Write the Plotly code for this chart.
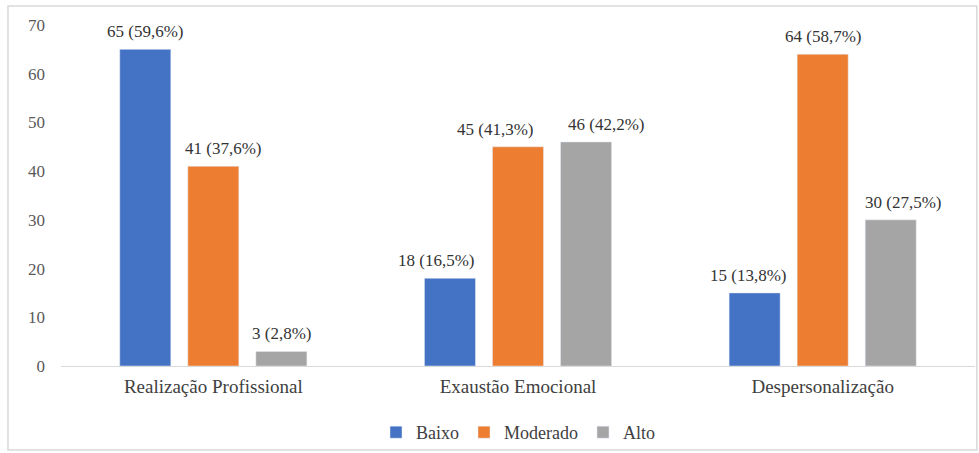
import plotly.graph_objects as go

categories = ["Realização Profissional", "Exaustão Emocional", "Despersonalização"]
series_names = ["Baixo", "Moderado", "Alto"]
baixo = [65, 18, 15]
moderado = [41, 45, 64]
alto = [3, 46, 30]
baixo_pct = ["59,6%", "16,5%", "13,8%"]
moderado_pct = ["37,6%", "41,3%", "58,7%"]
alto_pct = ["2,8%", "42,2%", "27,5%"]
colors = ["#4472C4", "#ED7D31", "#A5A5A5"]
y_ticks = [0, 10, 20, 30, 40, 50, 60, 70]

SERIF = "Liberation Serif, Times New Roman, serif"

series_vals = [baixo, moderado, alto]
series_pcts = [baixo_pct, moderado_pct, alto_pct]

fig = go.Figure()
for name, vals, col in zip(series_names, series_vals, colors):
    fig.add_trace(go.Bar(x=categories, y=vals, name=name, marker_color=col))

# data labels (placed like the original: above each bar, nudged sideways)
slot_px = 68
nudge = {(0, 1): 10, (1, 0): -14, (1, 1): -23, (1, 2): 20, (2, 0): -7, (2, 2): 12}
for si, (vals, pcts) in enumerate(zip(series_vals, series_pcts)):
    for ci, (cat, v, p) in enumerate(zip(categories, vals, pcts)):
        fig.add_annotation(
            x=cat, y=v, text=f"{v} ({p})", showarrow=False,
            xanchor="center", yanchor="bottom",
            xshift=(si - 1) * slot_px + nudge.get((ci, si), 0), yshift=6,
            font=dict(family=SERIF, size=17, color="#333333"),
        )

fig.update_layout(
    width=979, height=453,
    margin=dict(l=61, r=4, t=25, b=87, autoexpand=False),
    paper_bgcolor="white", plot_bgcolor="white",
    barmode="group", bargap=0.33, bargroupgap=0.25,
    font=dict(family=SERIF, color="#404040"),
    showlegend=True,
    legend=dict(orientation="h", x=0.5, xanchor="center", y=-0.195, yanchor="middle",
                bgcolor="rgba(0,0,0,0)",
                font=dict(family=SERIF, size=18, color="#404040"), itemwidth=30,
                traceorder="normal"),
    xaxis=dict(showline=True, linecolor="#D9D9D9", linewidth=1, ticks="",
               tickfont=dict(family=SERIF, size=19, color="#404040"), ticklabelstandoff=3,
               automargin=False),
    yaxis=dict(range=[0, 70], tickvals=y_ticks, showgrid=False, zeroline=False,
               showline=False, tickfont=dict(family=SERIF, size=17, color="#595959"),
               ticklabelstandoff=15, automargin=False),
    shapes=[dict(type="rect", xref="paper", yref="paper", x0=-0.058, x1=1.002,
                 y0=-0.246, y1=1.056, line=dict(color="#D9D9D9", width=1.5))],
)

fig.write_html("out.html")
